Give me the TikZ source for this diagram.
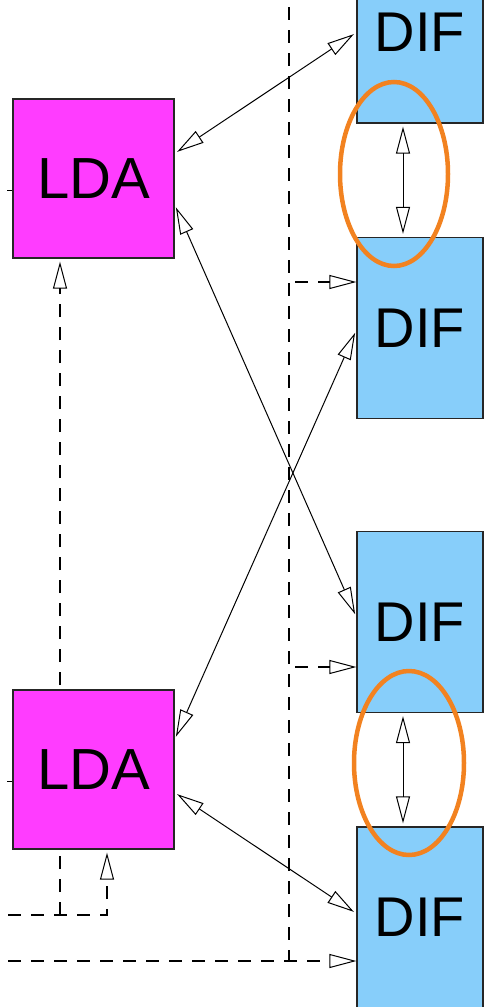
\documentclass[tikz,border=0pt]{standalone}
\usepackage{fontspec}
\setmainfont{Liberation Sans}
\usepackage{tikz}
\usetikzlibrary{arrows.meta,backgrounds}

\definecolor{ldapink}{RGB}{255,60,255}
\definecolor{difblue}{RGB}{135,206,250}
\definecolor{ringorange}{RGB}{242,130,32}

\begin{document}
\begin{tikzpicture}[x=1pt,y=-1pt,
	>={Triangle[open,length=27pt,width=14pt,line width=1pt]},
	lda/.style={draw=black!85,line width=1.3pt,fill=ldapink,minimum width=161pt,minimum height=159pt,inner sep=0pt,font=\fontsize{58}{60}\selectfont},
	dif/.style={draw=black!85,line width=1.3pt,fill=difblue,minimum width=126pt,minimum height=181pt,inner sep=0pt,font=\fontsize{56}{60}\selectfont},
	link/.style={<->,line width=1pt,shorten <=3pt,shorten >=3pt},
	ctrl/.style={line width=1.2pt,dash pattern=on 13pt off 10pt},
	ring/.style={draw=ringorange,line width=4.5pt}]
				\useasboundingbox (0,0) rectangle (484,1007);
				\clip (0,0) rectangle (484,1007);

				\node[lda]	(lda0) at (93.5,178.5) {LDA};
				\node[lda]	(lda1) at (93.5,769.5) {LDA};
				\node[dif]	(dif0) at (420,32.5) {DIF};
				\node[dif]	(dif1) at (420,328) {DIF};
				\node[dif]	(dif2) at (420,622) {DIF};
				\node[dif]	(dif3) at (420,917.5) {DIF};

				\coordinate (bustop) at (289,7);
				\coordinate (busend) at (289,961);
				\coordinate (tap0) at (289,282);
				\coordinate (tap1) at (289,667);
				\coordinate (feed0) at (8,961);
				\coordinate (feed1) at (8,915);

				% control lines
				\draw[ctrl] (bustop) -- (busend);
				\draw[ctrl,->] (feed0) -- (dif3.west |- feed0);
				\draw[ctrl,->,shorten <=6pt] (tap0) -- (dif1.west |- tap0);
				\draw[ctrl,->,shorten <=6pt] (tap1) -- (dif2.west |- tap1);
				\draw[ctrl,->,shorten >=3pt] (feed1) -| ([xshift=13.5pt]lda1.south);
				\begin{pgfonlayer}{background}
				\draw[ctrl,->,shorten >=3pt] ([xshift=-33.5pt]lda0.south |- feed1) -- ([xshift=-33.5pt]lda0.south);
				\end{pgfonlayer}

				\draw[line width=1pt] ([yshift=-12pt]lda0.west) -- ++(-5,0);
				\draw[line width=1pt] ([yshift=-12pt]lda1.west) -- ++(-5,0);

				% data links
				\draw[link] (dif0.west) -- ([yshift=25pt]lda0.east);
				\draw[link] ([xshift=-17pt]dif0.south) -- ([xshift=-17pt]dif1.north);
				\draw[link] ([yshift=-26pt]lda0.east) -- ([yshift=5pt]dif2.west);
				\draw[link] ([yshift=-2pt]dif1.west) -- ([yshift=30pt]lda1.east);
				\draw[link] ([xshift=-17pt]dif2.south) -- ([xshift=-17pt]dif3.north);
				\draw[link] ([yshift=-23pt]lda1.east) -- ([yshift=4pt]dif3.west);

				\draw[ring] (394,174) ellipse [x radius=54, y radius=92];
				\draw[ring] (409,763) ellipse [x radius=55, y radius=92];
\end{tikzpicture}
\end{document}
